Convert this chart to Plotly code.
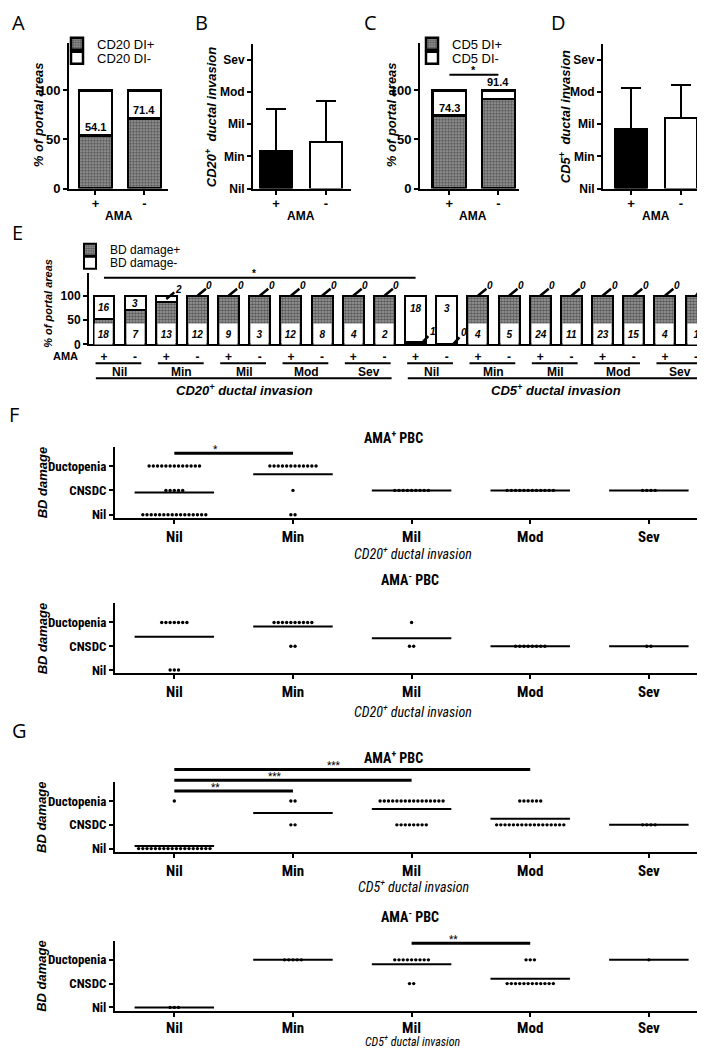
import plotly.graph_objects as go

W, H = 705, 1050

# ---------------- data ----------------
ama_groups = ["+", "-"]
cd20_di_pos_pct = [54.1, 71.4]
cd5_di_pos_pct = [74.3, 91.4]

severity = ["Nil", "Min", "Mil", "Mod", "Sev"]
cd20_inv_mean = [1.16, 1.45]
cd20_inv_err = [1.31, 1.28]
cd5_inv_mean = [1.86, 2.18]
cd5_inv_err = [1.28, 1.03]

# Panel E: portal-area counts, ordered (Nil+, Nil-, Min+, Min-, ... Sev+, Sev-)
cd20_bd_pos = [18, 7, 13, 12, 9, 3, 12, 8, 4, 2]
cd20_bd_neg = [16, 3, 2, 0, 0, 0, 0, 0, 0, 0]
cd5_bd_pos = [1, 0, 4, 5, 24, 11, 23, 15, 4, 1]
cd5_bd_neg = [18, 3, 0, 0, 0, 0, 0, 0, 0, 0]

bd_levels = ["Nil", "CNSDC", "Ductopenia"]
# Panels F/G: number of portal areas per BD damage level at each invasion level (Nil..Sev)
f_pos_nil = [16, 2, 0, 0, 0]
f_pos_cnsdc = [5, 1, 9, 12, 4]
f_pos_ducto = [13, 12, 0, 0, 0]
f_neg_nil = [3, 0, 0, 0, 0]
f_neg_cnsdc = [0, 2, 2, 8, 2]
f_neg_ducto = [7, 10, 1, 0, 0]
g_pos_nil = [18, 0, 0, 0, 0]
g_pos_cnsdc = [0, 2, 8, 17, 4]
g_pos_ducto = [1, 2, 16, 6, 0]
g_neg_nil = [3, 0, 0, 0, 0]
g_neg_cnsdc = [0, 0, 2, 12, 0]
g_neg_ducto = [0, 5, 9, 3, 1]

sig_f_pos = [("Nil", "Min", "*")]
sig_g_pos = [("Nil", "Min", "**"), ("Nil", "Mil", "***"), ("Nil", "Mod", "***")]
sig_g_neg = [("Mil", "Mod", "**")]

# ---------------- style ----------------
ARIAL = "Liberation Sans, Arial, Helvetica, sans-serif"
NARROW = "Liberation Sans Narrow, Arial Narrow, Roboto Condensed, DejaVu Sans Condensed, Liberation Sans, sans-serif"
LETTER = "Open Sans, Noto Sans, Liberation Sans, sans-serif"
PAT = dict(shape=".", fgcolor="#111111", bgcolor="#a0a0a0", size=3, solidity=0.6)

panels = {
    1: dict(x=(61, 160), xr=(-0.54, 1.48), y=(35.5, 182), yr=(0, 148)),
    2: dict(x=(245, 343), xr=(-0.46, 1.5), y=(36, 182), yr=(0, 4.5)),
    3: dict(x=(412, 511), xr=(-0.6, 1.42), y=(35.5, 182), yr=(0, 148)),
    4: dict(x=(595, 700), xr=(-0.56, 1.54), y=(36, 182), yr=(0, 4.5)),
    5: dict(x=(81, 703), xr=(-0.48, 19.48), y=(267, 339), yr=(0, 147)),
    6: dict(x=(107, 699), xr=(-0.5, 4.49), y=(442, 514), yr=(-0.14, 2.8)),
    7: dict(x=(107, 699), xr=(-0.5, 4.49), y=(600, 670.4), yr=(-0.14, 2.8)),
    8: dict(x=(107, 699), xr=(-0.5, 4.49), y=(780, 850.4), yr=(-0.14, 2.8)),
    9: dict(x=(107, 699), xr=(-0.5, 4.49), y=(940, 1010.4), yr=(-0.14, 2.8)),
}


def ref(prefix, n):
    return prefix if n == 1 else f"{prefix}{n}"


def axkey(prefix, n):
    return prefix + "axis" + ("" if n == 1 else str(n))


def ypaper(n, v):
    p = panels[n]
    top, bot = p["y"]
    r0, r1 = p["yr"]
    return 1 - (bot - (v - r0) / (r1 - r0) * (bot - top)) / H


def px(xp):
    return xp / W


def py(yp):
    return 1 - yp / H


layout = dict(width=W, height=H, margin=dict(l=0, r=0, t=0, b=0),
              paper_bgcolor="white", plot_bgcolor="white", barmode="stack",
              font=dict(family=ARIAL, color="black"), showlegend=True)

LINE = dict(showline=True, linecolor="black", linewidth=2, showgrid=False,
            zeroline=False, ticks="outside", tickcolor="black", tickwidth=2,
            ticklen=4, fixedrange=True)

for n, p in panels.items():
    layout[axkey("x", n)] = dict(domain=[p["x"][0] / W, p["x"][1] / W], range=list(p["xr"]),
                                 anchor=ref("y", n), **LINE)
    layout[axkey("y", n)] = dict(domain=[1 - p["y"][1] / H, 1 - p["y"][0] / H], range=list(p["yr"]),
                                 anchor=ref("x", n), **LINE)

bold12 = dict(family=ARIAL, size=12, color="black", weight="bold")
bold13 = dict(family=ARIAL, size=13, color="black", weight="bold")
for n in (1, 3):
    layout[axkey("x", n)].update(tickvals=[0, 1], ticktext=ama_groups, tickfont=bold13,
                                 ticklabelstandoff=-2)
    layout[axkey("y", n)].update(tickvals=[0, 50, 100], tickfont=bold13)
for n in (2, 4):
    layout[axkey("x", n)].update(tickvals=[0, 1], ticktext=ama_groups, tickfont=bold13,
                                 ticklabelstandoff=-2)
    layout[axkey("y", n)].update(tickvals=[0, 1, 2, 3, 4], ticktext=severity, tickfont=bold12)
layout["xaxis5"].update(tickvals=list(range(20)), ticktext=ama_groups * 10, ticks="", tickfont=bold12)
layout["yaxis5"].update(tickvals=[0, 50, 100], tickfont=bold12)
for n in (6, 7, 8, 9):
    layout[axkey("x", n)].update(tickvals=list(range(5)), ticktext=severity,
                                 tickfont=dict(family=NARROW, size=15, color="black", weight="bold"))
    layout[axkey("y", n)].update(tickvals=[0, 1, 2], ticktext=bd_levels,
                                 tickfont=dict(family=NARROW, size=13, color="black", weight="bold"))
layout["xaxis9"].update(ticklabelstandoff=-2)

traces = []
shapes = []
annots = []


def ann(x, y, text, size=12, weight="bold", style="normal", family=ARIAL, **kw):
    d = dict(x=x, y=y, text=text, showarrow=False, xanchor="center", yanchor="middle",
             xref="paper", yref="paper",
             font=dict(family=family, size=size, color="black", weight=weight, style=style))
    d.update(kw)
    annots.append(d)


# ---------------- A & C: stacked % bars ----------------
legends = {}
for n, vals, lname, lp, lm, lx in ((1, cd20_di_pos_pct, "CD20", "legend", "legend2", 49),
                                   (3, cd5_di_pos_pct, "CD5", "legend3", "legend4", 404)):
    traces.append(go.Bar(x=[0, 1], y=vals, width=0.68, name=f"{lname} DI+", legend=lp,
                         marker=dict(color="white", pattern=PAT, line=dict(color="black", width=2.5)),
                         xaxis=ref("x", n), yaxis=ref("y", n), hoverinfo="skip"))
    traces.append(go.Bar(x=[0, 1], y=[100 - v for v in vals], width=0.68, name=f"{lname} DI-", legend=lm,
                         marker=dict(color="white", line=dict(color="black", width=2.5)),
                         xaxis=ref("x", n), yaxis=ref("y", n), hoverinfo="skip"))
    legends[lp] = (lx, 21, 13)
    legends[lm] = (lx, 35, 13)
    for i, v in enumerate(vals):
        ann(i, v if 100 - v > 12 else 100, f"{v}", size=11, xref=ref("x", n), yref=ref("y", n),
            yanchor="bottom")

# C significance
shapes.append(dict(type="line", xref="x3", yref="y3", x0=0, x1=1, y0=116, y1=116,
                   line=dict(color="black", width=2)))
ann(0.5, 116, "*", size=11, xref="x3", yref="y3", yanchor="bottom", yshift=-3)

# ---------------- B & D: mean bars with SD ----------------
for n, m, e in ((2, cd20_inv_mean, cd20_inv_err), (4, cd5_inv_mean, cd5_inv_err)):
    traces.append(go.Bar(x=[0, 1], y=m, width=0.64, showlegend=False,
                         marker=dict(color=["black", "white"], line=dict(color="black", width=2)),
                         error_y=dict(type="data", array=e, arrayminus=[0, 0], symmetric=False,
                                      color="black", thickness=2, width=10),
                         xaxis=ref("x", n), yaxis=ref("y", n), hoverinfo="skip"))

# ---------------- E ----------------
pos = cd20_bd_pos + cd5_bd_pos
neg = cd20_bd_neg + cd5_bd_neg
pct = [100 * a / (a + b) for a, b in zip(pos, neg)]
xs = list(range(20))
traces.append(go.Bar(x=xs, y=pct, width=0.67, name="BD damage+", legend="legend5",
                     marker=dict(color="white", pattern=PAT, line=dict(color="black", width=2)),
                     xaxis="x5", yaxis="y5", hoverinfo="skip"))
traces.append(go.Bar(x=xs, y=[100 - v for v in pct], width=0.67, name="BD damage-", legend="legend6",
                     marker=dict(color="white", line=dict(color="black", width=2)),
                     xaxis="x5", yaxis="y5", hoverinfo="skip"))
legends["legend5"] = (62, 229, 12)
legends["legend6"] = (62, 242, 12)
for i in xs:
    a, b, v = pos[i], neg[i], pct[i]
    if v >= 20:
        ann(i, 21.5, f"<i>{a}</i>", size=10, xref="x5", yref="y5", bgcolor="white",
            width=15, height=18)
    else:
        ann(i + 0.2, v / 2, f"<i>{a}</i>", size=10, xref="x5", yref="y5", showarrow=True,
            arrowhead=0, arrowwidth=2.5, arrowcolor="black", ax=11, ay=-12)
    if 100 - v >= 20:
        ann(i, max((v + 100) / 2, 73), f"<i>{b}</i>", size=10, xref="x5", yref="y5")
    else:
        ann(i, (v + 100) / 2, f"<i>{b}</i>", size=10, xref="x5", yref="y5", showarrow=True,
            arrowhead=0, arrowwidth=2.5, arrowcolor="black", ax=12 if i < 19 else 7, ay=-10,
            borderpad=0)

shapes.append(dict(type="line", xref="x5", yref="y5", x0=0, x1=10, y0=137, y1=137,
                   line=dict(color="black", width=2)))
ann(4.8, 137, "*", size=10, xref="x5", yref="y5", yanchor="bottom", yshift=-3)
ann(px(57), py(351), "AMA", size=11)
for k in range(10):
    shapes.append(dict(type="line", xref="x5", yref="paper", x0=2 * k - 0.27, x1=2 * k + 1.2,
                       y0=py(358), y1=py(358), line=dict(color="black", width=2)))
    ann(2 * k + 0.5, py(367), severity[k % 5], size=12, xref="x5")
shapes.append(dict(type="line", xref="x5", yref="paper", x0=-0.26, x1=9.23, y0=py(373), y1=py(373),
                   line=dict(color="black", width=2)))
shapes.append(dict(type="line", xref="x5", yref="paper", x0=9.75, x1=19.29, y0=py(373), y1=py(373),
                   line=dict(color="black", width=2)))
ann(4.5, py(385), "CD20<sup>+</sup> ductal invasion", size=13, style="italic", xref="x5")
ann(14.5, py(385), "CD5<sup>+</sup> ductal invasion", size=13, style="italic", xref="x5")

# ---------------- F / G dot plots ----------------
DOT_DX = 0.0354
HALF = 0.335


def dot_panel(n, levels_counts, sigs, sig_base, sig_step):
    xa, ya = ref("x", n), ref("y", n)
    dx, dy = [], []
    for lvl, counts in enumerate(levels_counts):
        for ci, c in enumerate(counts):
            for j in range(c):
                dx.append(ci + (j - (c - 1) / 2) * DOT_DX)
                dy.append(lvl)
    traces.append(go.Scatter(x=dx, y=dy, mode="markers", marker=dict(size=3.4, color="black"),
                             showlegend=False, xaxis=xa, yaxis=ya, hoverinfo="skip"))
    lx, ly = [], []
    for ci in range(5):
        tot = sum(c[ci] for c in levels_counts)
        if tot == 0:
            continue
        m = sum(l * c[ci] for l, c in enumerate(levels_counts)) / tot
        lx += [ci - HALF, ci + HALF, None]
        ly += [m, m, None]
    traces.append(go.Scatter(x=lx, y=ly, mode="lines", line=dict(color="black", width=2),
                             showlegend=False, xaxis=xa, yaxis=ya, hoverinfo="skip"))
    for k, (c0, c1, star) in enumerate(sigs):
        i0, i1 = severity.index(c0), severity.index(c1)
        yv = ypaper(n, sig_base + k * sig_step)
        shapes.append(dict(type="line", xref=xa, yref="paper", x0=i0, x1=i1, y0=yv, y1=yv,
                           line=dict(color="black", width=3)))
        ann((i0 + i1) / 2 - 0.15, yv, star, size=10, family=NARROW, weight="normal",
            xref=xa, yanchor="bottom", yshift=-4)


dot_panel(6, [f_pos_nil, f_pos_cnsdc, f_pos_ducto], sig_f_pos, 2.53, 0)
dot_panel(7, [f_neg_nil, f_neg_cnsdc, f_neg_ducto], [], 0, 0)
dot_panel(8, [g_pos_nil, g_pos_cnsdc, g_pos_ducto], sig_g_pos, 2.42, 0.455)
dot_panel(9, [g_neg_nil, g_neg_cnsdc, g_neg_ducto], sig_g_neg, 2.7, 0)

for n, title_x, title_y, title, xt_y, xt_size, xt_anchor, xt in (
        (6, 385, 432, "AMA<sup>+</sup> PBC", 549, 14, "middle", "CD20<sup>+</sup> ductal invasion"),
        (7, 402, 575, "AMA<sup>-</sup> PBC", 708, 14, "middle", "CD20<sup>+</sup> ductal invasion"),
        (8, 385, 755, "AMA<sup>+</sup> PBC", 885, 14, "middle", "CD5<sup>+</sup> ductal invasion"),
        (9, 402, 915, "AMA<sup>-</sup> PBC", 1050, 12, "bottom", "CD5<sup>+</sup> ductal invasion")):
    ann(px(title_x), py(title_y), title, size=14, family=NARROW)
    ann(px(405), py(xt_y), xt, size=xt_size, family=NARROW, weight="normal", style="italic",
        borderpad=0, yanchor=xt_anchor)
    top, bot = panels[n]["y"]
    ann(px(34), py((top + bot) / 2), "BD damage", size=13, style="italic", textangle=-90)

# ---------------- axis titles, AMA labels, panel letters ----------------
ann(px(30), py(108), "% of portal areas", size=13, style="italic", textangle=-90)
ann(px(383), py(108), "% of portal areas", size=13, style="italic", textangle=-90)
ann(px(203), py(110), "CD20<sup>+</sup>  ductal invasion", size=13, style="italic", textangle=-90)
ann(px(557), py(110), "CD5<sup>+</sup>  ductal invasion", size=13, style="italic", textangle=-90)
ann(px(40), py(298), "% of portal areas", size=11, style="italic", textangle=-90)
for xx in (111, 293, 465, 648):
    ann(px(xx), py(210), "AMA", size=12)
for letter, xx in (("A", 10), ("B", 193), ("C", 362), ("D", 550)):
    ann(px(xx), py(0), letter, size=20, weight="normal", family=LETTER, yanchor="top", borderpad=0)
for letter, xx, yy in (("E", 9, 226), ("F", 6, 410), ("G", 11, 728)):
    ann(px(xx), py(yy), letter, size=20, weight="normal", family=LETTER)

for key, (lx, ly, fs) in legends.items():
    layout[key] = dict(x=px(lx), y=py(ly), xanchor="left", yanchor="top", bgcolor="rgba(0,0,0,0)",
                       traceorder="normal", itemclick=False, itemdoubleclick=False,
                       font=dict(family=ARIAL, size=fs, color="black"))

layout["shapes"] = shapes
layout["annotations"] = annots

fig = go.Figure(data=traces, layout=layout)
fig.write_html("out.html")
